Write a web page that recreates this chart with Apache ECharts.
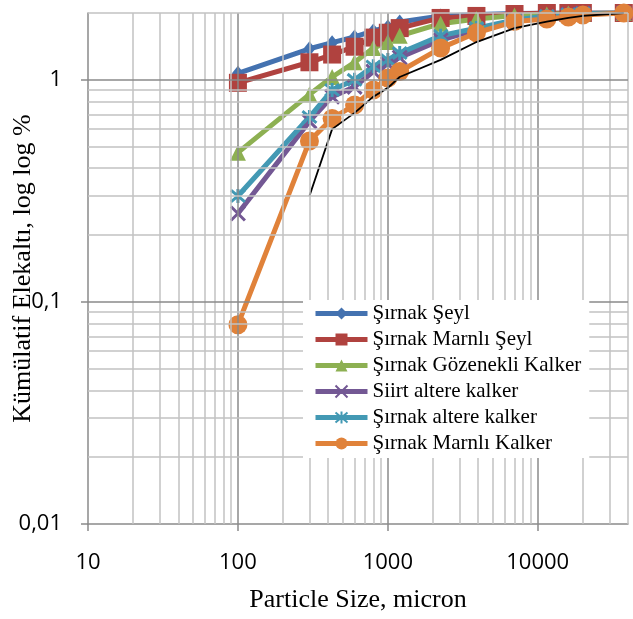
<!DOCTYPE html>
<html>
<head>
<meta charset="utf-8">
<script src="https://cdn.jsdelivr.net/npm/echarts@6/dist/echarts.min.js"></script>
<style>
html, body { margin: 0; padding: 0; background: #fff; }
#chart { width: 633px; height: 619px; }
</style>
</head>
<body>
<div id="chart"></div>
<script>
// sieve sizes, micron
var sizes = [100, 300, 425, 600, 800, 1000, 1200, 2250, 3900, 7000, 11500, 16000, 20000, 37500];

var sirnakSeyl        = [1.07, 1.38, 1.47, 1.56, 1.66, 1.73, 1.82, 1.94, 1.97, 1.99, 2.0, 2.0, 2.0, 2.0];
var sirnakMarnliSeyl  = [0.97, 1.2, 1.3, 1.41, 1.55, 1.63, 1.71, 1.9, 1.94, 1.98, 2.0, 2.0, 2.0, 2.0];
var gozenekliKalker   = [0.47, 0.86, 1.03, 1.2, 1.39, 1.48, 1.58, 1.79, 1.88, 1.95, 1.97, 1.99, 1.99, 2.0];
var siirtAltere       = [0.25, 0.65, 0.84, 0.93, 1.09, 1.18, 1.26, 1.51, 1.68, 1.84, 1.92, 1.97, 1.99, 2.0];
var sirnakAltere      = [0.3, 0.68, 0.9, 1.0, 1.15, 1.23, 1.32, 1.58, 1.71, 1.86, 1.94, 1.97, 1.99, 2.0];
var marnliKalker      = [0.079, 0.53, 0.67, 0.77, 0.9, 1.02, 1.09, 1.39, 1.63, 1.83, 1.88, 1.92, 1.96, 2.0];
var referenceLine     = [null, 0.3, 0.6, 0.71, 0.84, 0.92, 1.03, 1.23, 1.48, 1.71, 1.83, 1.9, 1.94, 2.0];

var xTicks = [10, 100, 1000, 10000];
var xTickLabels = ['10', '100', '1000', '10000'];
var yTicks = [0.01, 0.1, 1];
var yTickLabels = ['0,01', '0,1', '1'];

var xMin = 10, xMax = 40000, yMin = 0.01, yMax = 2;

function pairs(xs, ys) {
    var out = [];
    for (var i = 0; i < xs.length; i++) {
        if (ys[i] != null) out.push([xs[i], ys[i]]);
    }
    return out;
}

function findLabel(ticks, labels, v) {
    for (var i = 0; i < ticks.length; i++) {
        if (Math.abs(v / ticks[i] - 1) < 1e-6) return labels[i];
    }
    return '';
}

// grid lines: 1..9 per decade, darker on the decades
var majorGrid = { color: '#8a8a8a', width: 1.5, type: 'solid' };
var minorGrid = { color: '#c2c2c2', width: 1.5, type: 'solid' };
var gridLines = [];
function addDecadeLines(lo, hi, axisKey) {
    for (var d = lo; d < hi; d *= 10) {
        for (var k = 1; k <= 9; k++) {
            var v = d * k;
            if (v <= lo || v > hi) continue;
            var item = {};
            item[axisKey] = v;
            item.lineStyle = k === 1 ? majorGrid : minorGrid;
            gridLines.push(item);
        }
    }
}
addDecadeLines(xMin, xMax, 'xAxis');
addDecadeLines(yMin, yMax, 'yAxis');

var serif = '"Liberation Serif", "Times New Roman", serif';
var sans = '"Open Sans", "Liberation Sans", sans-serif';

var colors = ['#4472b0', '#b0423f', '#8db052', '#735894', '#4399b4', '#e0823a'];

function dataSeries(name, values, color, symbol, symbolSize, stroke) {
    return {
        name: name,
        type: 'line',
        data: pairs(sizes, values),
        symbol: symbol,
        symbolSize: symbolSize,
        showAllSymbol: true,
        z: 3,
        lineStyle: { color: color, width: 5 },
        itemStyle: stroke
            ? { color: color, borderColor: color, borderWidth: 3 }
            : { color: color, borderWidth: 0 }
    };
}

var xPath = 'path://M0,0L10,10M10,0L0,10';
var starPath = 'path://M0,0L10,10M10,0L0,10M5,-1L5,11';

var chart = echarts.init(document.getElementById('chart'));
chart.setOption({
    animation: false,
    backgroundColor: '#fff',
    grid: { left: 88, right: 5, top: 13, bottom: 95, containLabel: false, outerBoundsMode: 'none' },
    legend: {
        orient: 'vertical',
        left: 303,
        top: 300,
        z: 20,
        padding: [3, 8, 4, 10],
        backgroundColor: '#fff',
        itemWidth: 52,
        itemHeight: 15,
        itemGap: 5,
        lineStyle: { width: 5 },
        data: ['Şırnak Şeyl', 'Şırnak Marnlı Şeyl', 'Şırnak Gözenekli Kalker',
               'Siirt altere kalker', 'Şırnak altere kalker', 'Şırnak Marnlı Kalker'],
        textStyle: { fontFamily: serif, fontSize: 21, color: '#000', lineHeight: 21 }
    },
    xAxis: {
        type: 'log',
        logBase: 10,
        min: xMin,
        max: xMax,
        name: 'Particle Size, micron',
        nameLocation: 'middle',
        nameGap: 63,
        nameMoveOverlap: false,
        nameTextStyle: { fontFamily: serif, fontSize: 26, color: '#000' },
        axisLine: { lineStyle: { color: '#8a8a8a', width: 1.5 } },
        axisTick: { show: true, length: 7, customValues: xTicks, lineStyle: { color: '#8a8a8a', width: 1.5 } },
        axisLabel: {
            customValues: xTicks,
            margin: 28,
            fontFamily: sans,
            fontSize: 22,
            color: '#000',
            formatter: function (v) { return findLabel(xTicks, xTickLabels, v); }
        },
        splitLine: { show: false }
    },
    yAxis: {
        type: 'log',
        logBase: 10,
        min: yMin,
        max: yMax,
        name: 'Kümülatif Elekaltı, log log %',
        nameLocation: 'middle',
        nameGap: 52,
        nameMoveOverlap: false,
        nameTextStyle: { fontFamily: serif, fontSize: 26, color: '#000' },
        axisLine: { show: true, lineStyle: { color: '#8a8a8a', width: 1.5 } },
        axisTick: { show: true, length: 7, customValues: yTicks, lineStyle: { color: '#8a8a8a', width: 1.5 } },
        axisLabel: {
            customValues: yTicks,
            margin: 26,
            fontFamily: sans,
            fontSize: 22,
            color: '#000',
            formatter: function (v) { return findLabel(yTicks, yTickLabels, v); }
        },
        splitLine: { show: false }
    },
    series: [
        {
            name: 'grid',
            type: 'line',
            data: [],
            z: 1,
            silent: true,
            markLine: {
                silent: true,
                symbol: ['none', 'none'],
                label: { show: false },
                animation: false,
                data: gridLines
            }
        },
        dataSeries('Şırnak Şeyl', sirnakSeyl, colors[0], 'diamond', [12, 15], false),
        dataSeries('Şırnak Marnlı Şeyl', sirnakMarnliSeyl, colors[1], 'rect', 18, false),
        dataSeries('Şırnak Gözenekli Kalker', gozenekliKalker, colors[2], 'triangle', 16, false),
        dataSeries('Siirt altere kalker', siirtAltere, colors[3], xPath, 14, true),
        dataSeries('Şırnak altere kalker', sirnakAltere, colors[4], starPath, 14, true),
        dataSeries('Şırnak Marnlı Kalker', marnliKalker, colors[5], 'circle', 19, false),
        {
            name: 'ref',
            type: 'line',
            data: pairs(sizes, referenceLine),
            symbol: 'none',
            z: 4,
            lineStyle: { color: '#000', width: 1.8 }
        }
    ]
});
</script>
</body>
</html>
